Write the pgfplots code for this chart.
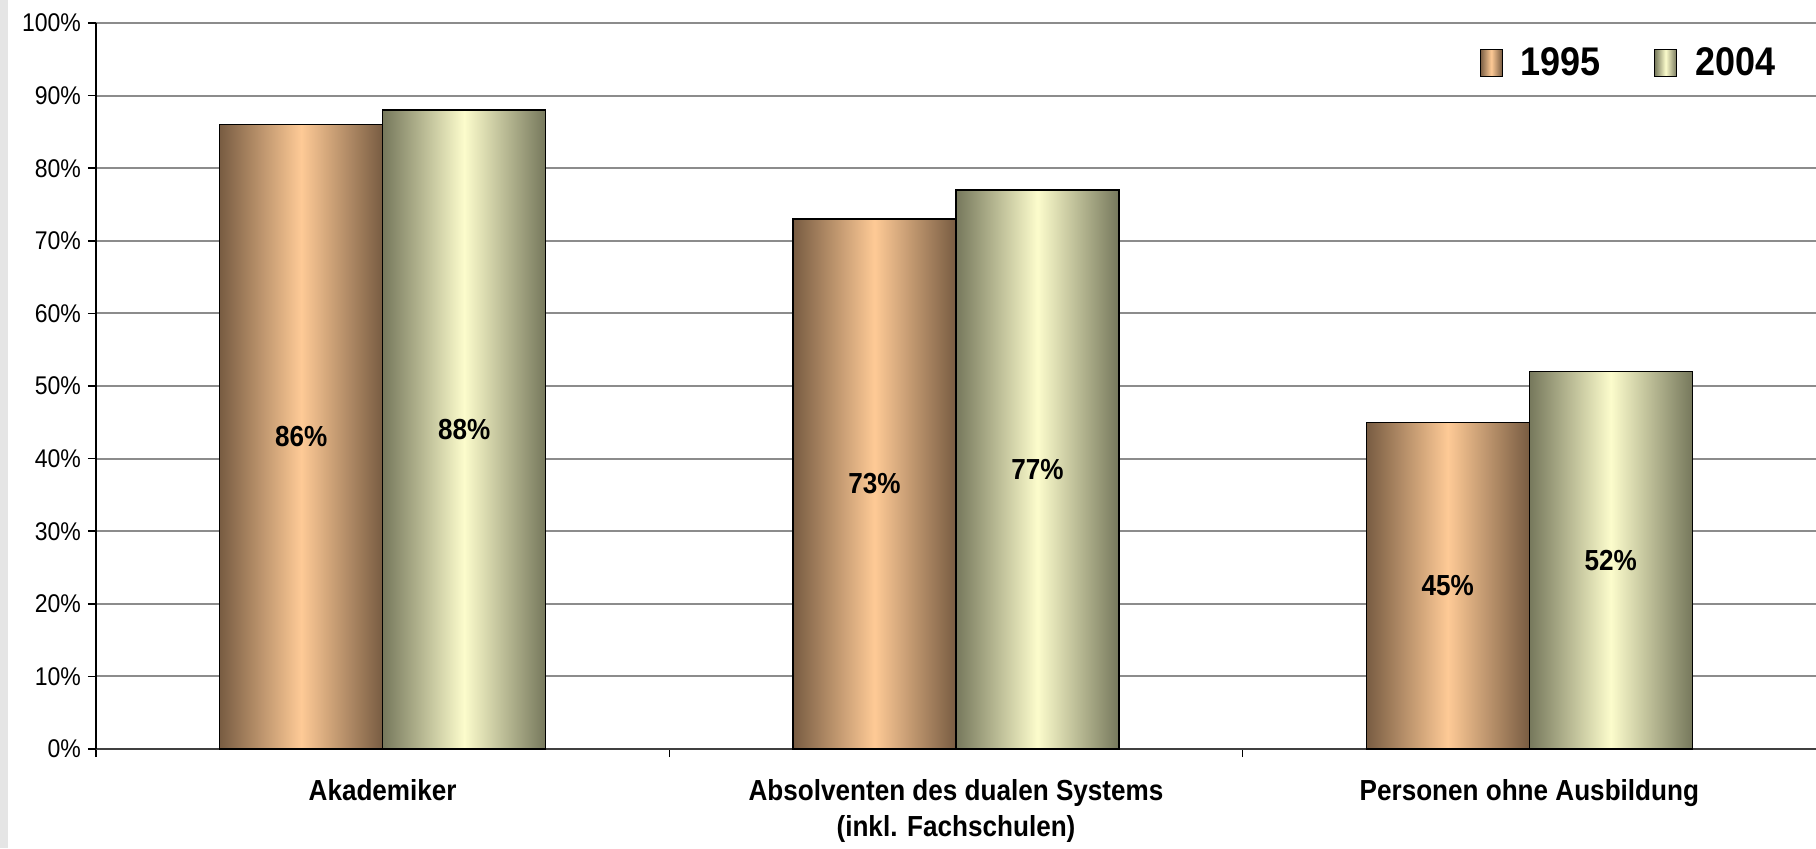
\documentclass[border=0pt]{standalone}
\usepackage{pgfplots}
\pgfplotsset{compat=1.18}
\usepackage{fontspec}
\setmainfont{Liberation Sans}[FakeStretch=0.9]

\definecolor{peachDk}{RGB}{120,92,66}
\definecolor{peachLt}{RGB}{254,202,150}
\definecolor{oliveDk}{RGB}{118,120,92}
\definecolor{oliveLt}{RGB}{252,252,204}
\definecolor{gridgray}{RGB}{140,140,140}

% each bar is its own plot so that the cylinder shading spans one bar only
\pgfplotsset{
  legbox/.style={legend image code/.code={\draw[##1] (0pt,-6.75pt) rectangle (11pt,6.75pt);}},
  bar95/.style={draw=black, line width=0.7pt, bar shift=-40.75pt,
    left color=peachDk, right color=peachDk, middle color=peachLt, legbox},
  bar04/.style={draw=black, line width=0.7pt, bar shift=40.75pt,
    left color=oliveDk, right color=oliveDk, middle color=oliveLt, legbox},
}

\begin{document}
\begin{tikzpicture}
\path[use as bounding box] (-48pt,-49.5pt) rectangle (860pt,374.5pt);
\fill[black!10] (-48pt,-49.5pt) rectangle (-44pt,374.5pt);
\begin{axis}[
  at={(0pt,0pt)}, anchor=south west,
  scale only axis, width=860pt, height=363pt,
  ybar, bar width=81.5pt,
  xmin=-0.5, xmax=2.5, ymin=0, ymax=100,
  axis x line*=bottom, axis y line*=left,
  x axis line style={draw=black!75, line width=1.2pt},
  y axis line style={draw=black, line width=0.9pt},
  xtick={-0.5,0.5,1.5}, xticklabels={,,},
  extra x ticks={0,1,2},
  extra x tick labels={Akademiker, {Absolventen des dualen Systems\\(inkl. Fachschulen)}, Personen ohne Ausbildung},
  extra x tick style={major tick length=0pt,
    tick label style={font=\bfseries\fontsize{14.5}{18}\selectfont, align=center, yshift=-11.5pt}},
  ytick={0,10,...,100},
  yticklabel={\pgfmathprintnumber{\tick}\%},
  ymajorgrids, xmajorgrids=false,
  grid style={draw=gridgray, line width=1pt},
  tick align=outside, major tick length=4pt,
  tick style={black, line width=0.8pt},
  yticklabel style={font=\fontsize{12.8}{14}\selectfont},
  /pgf/number format/assume math mode=true,
  legend columns=2,
  legend style={at={(0.979,0.945)}, anchor=east, draw=none, fill=white,
    inner sep=0pt, font=\bfseries\fontsize{20}{22}\selectfont,
    /tikz/every odd column/.append style={column sep=7pt},
    /tikz/every even column/.append style={column sep=24.5pt}},
  nodes near coords={\pgfmathprintnumber[fixed,precision=0]{\pgfplotspointmeta}\%},
  visualization depends on=y \as \rawy,
  every node near coord/.append style={anchor=center, text=black,
    font=\bfseries\fontsize{14.5}{16}\selectfont, yshift={-1.815pt*\rawy}},
]
% Akademiker
\addplot[bar95] coordinates {(0,86)};
\addplot[bar04] coordinates {(0,88)};
% Absolventen des dualen Systems
\addplot[bar95, forget plot] coordinates {(1,73)};
\addplot[bar04, forget plot] coordinates {(1,77)};
% Personen ohne Ausbildung
\addplot[bar95, forget plot] coordinates {(2,45)};
\addplot[bar04, forget plot] coordinates {(2,52)};
\legend{1995,2004}
\end{axis}
\end{tikzpicture}
\end{document}
